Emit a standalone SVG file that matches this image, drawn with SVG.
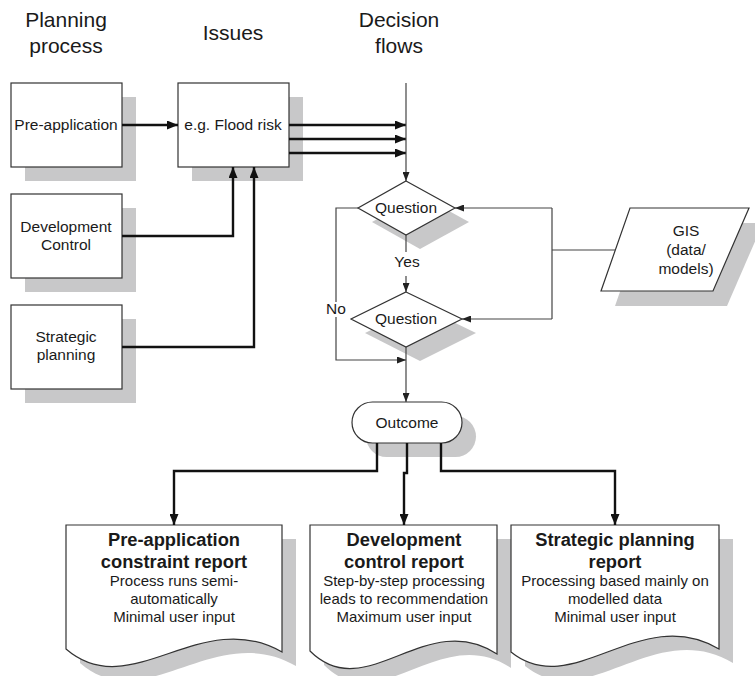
<svg xmlns="http://www.w3.org/2000/svg" width="755" height="676" viewBox="0 0 755 676">
<style>
text{font-family:"Liberation Sans",Arial,sans-serif;fill:#1a1a1a;text-anchor:middle}
.h{font-size:21px}
.n{font-size:15.5px}
.b{font-size:18.3px;font-weight:bold}
.s{font-size:15px}
.shape{fill:#fff;stroke:#333;stroke-width:1.2}
.sh{fill:#c8c8c9;stroke:none}
.thick{fill:none;stroke:#111;stroke-width:2.4}
.thin{fill:none;stroke:#444;stroke-width:1.2}
</style>
<defs>
<marker id="ak" markerUnits="userSpaceOnUse" viewBox="0 0 11 9" markerWidth="11" markerHeight="9" refX="11" refY="4.5" orient="auto"><path d="M0,0 L11,4.5 L0,9 Z" fill="#111"/></marker>
<marker id="an" markerUnits="userSpaceOnUse" viewBox="0 0 9 7" markerWidth="9" markerHeight="7" refX="9" refY="3.5" orient="auto"><path d="M0,0 L9,3.5 L0,7 Z" fill="#222"/></marker>
</defs>
<rect width="755" height="676" fill="#fff"/>

<g id="headers">
<text class="h" x="66" y="27">Planning</text>
<text class="h" x="66" y="53">process</text>
<text class="h" x="233" y="40">Issues</text>
<text class="h" x="399" y="27">Decision</text>
<text class="h" x="399" y="53">flows</text>
</g>

<g id="pre-application">
<rect class="sh" x="25" y="97" width="111" height="84"/>
<rect class="shape" x="11" y="83" width="111" height="84"/>
<text class="n" x="66" y="130">Pre-application</text>
</g>
<g id="flood-risk">
<rect class="sh" x="192" y="97" width="111" height="84"/>
<rect class="shape" x="178" y="83" width="111" height="84"/>
<text class="n" x="233" y="130">e.g. Flood risk</text>
</g>
<g id="development-control">
<rect class="sh" x="25" y="208" width="111" height="84"/>
<rect class="shape" x="11" y="194" width="111" height="84"/>
<text class="n" x="66" y="232">Development</text>
<text class="n" x="66" y="250">Control</text>
</g>
<g id="strategic-planning">
<rect class="sh" x="25" y="319" width="111" height="84"/>
<rect class="shape" x="11" y="305" width="111" height="84"/>
<text class="n" x="66" y="342">Strategic</text>
<text class="n" x="66" y="360">planning</text>
</g>

<g id="question1">
<polygon class="sh" points="420,195 469,222 420,249 372,222"/>
<polygon class="shape" points="406,181 455,208 406,235 358,208"/>
<text class="n" x="406" y="213">Question</text>
</g>
<g id="question2">
<polygon class="sh" points="420,306 476,333 420,361 365,333"/>
<polygon class="shape" points="406,292 462,319 406,347 351,319"/>
<text class="n" x="406" y="324">Question</text>
</g>
<g id="gis">
<polygon class="sh" points="644,223 763,223 727,306 615,306"/>
<polygon class="shape" points="630,208 749,208 713,291 601,291"/>
<text class="n" x="686" y="236">GIS</text>
<text class="n" x="686" y="255">(data/</text>
<text class="n" x="686" y="274">models)</text>
</g>
<g id="outcome">
<rect class="sh" x="366" y="416" width="110" height="41" rx="20.5"/>
<rect class="shape" x="352" y="402" width="110" height="41" rx="20.5"/>
<text class="n" x="407" y="428">Outcome</text>
</g>

<g id="report-pre-application">
<path class="sh" transform="translate(14,14)" d="M66,525 H282 V652 C200,605 131,705 66,649 Z"/>
<path class="shape" d="M66,525 H282 V652 C200,605 131,705 66,649 Z"/>
<text class="b" x="174" y="546">Pre-application</text>
<text class="b" x="174" y="568">constraint report</text>
<text class="s" x="174" y="586">Process runs semi-</text>
<text class="s" x="174" y="604">automatically</text>
<text class="s" x="174" y="622">Minimal user input</text>
</g>
<g id="report-development-control">
<path class="sh" transform="translate(14,14)" d="M310,525 H497 V654 C426,607 366,707 310,651 Z"/>
<path class="shape" d="M310,525 H497 V654 C426,607 366,707 310,651 Z"/>
<text class="b" x="404" y="546">Development</text>
<text class="b" x="404" y="568">control report</text>
<text class="s" x="404" y="586">Step-by-step processing</text>
<text class="s" x="404" y="604">leads to recommendation</text>
<text class="s" x="404" y="622">Maximum user input</text>
</g>
<g id="report-strategic-planning">
<path class="sh" transform="translate(14,14)" d="M511,525 H719 V649 C640,602 573,702 511,652 Z"/>
<path class="shape" d="M511,525 H719 V649 C640,602 573,702 511,652 Z"/>
<text class="b" x="615" y="546">Strategic planning</text>
<text class="b" x="615" y="568">report</text>
<text class="s" x="615" y="586">Processing based mainly on</text>
<text class="s" x="615" y="604">modelled data</text>
<text class="s" x="615" y="622">Minimal user input</text>
</g>

<g id="connectors">
<path class="thick" d="M122,125 H178" marker-end="url(#ak)"/>
<path class="thick" d="M289,125 H406" marker-end="url(#ak)"/>
<path class="thick" d="M289,139 H406" marker-end="url(#ak)"/>
<path class="thick" d="M289,153 H406" marker-end="url(#ak)"/>
<path class="thick" d="M122,236 H233 V167" marker-end="url(#ak)"/>
<path class="thick" d="M122,347 H254 V167" marker-end="url(#ak)"/>
<path class="thin" d="M406,83 V181" marker-end="url(#an)"/>
<path class="thin" d="M406,235 V252"/>
<path class="thin" d="M406,276 V292" marker-end="url(#an)"/>
<text class="n" x="407" y="267">Yes</text>
<path class="thin" d="M358,208 H336 V302"/>
<path class="thin" d="M336,317 V360 H406" marker-end="url(#an)"/>
<text class="n" x="336" y="314">No</text>
<path class="thin" d="M406,347 V402" marker-end="url(#an)"/>
<path class="thin" d="M615,250 H552"/>
<path class="thin" d="M552,208 V319"/>
<path class="thin" d="M552,208 H455" marker-end="url(#an)"/>
<path class="thin" d="M552,319 H462" marker-end="url(#an)"/>
<path class="thick" d="M377,443 V471 H174 V525" marker-end="url(#ak)"/>
<path class="thick" d="M407,443 V473 H404 V525" marker-end="url(#ak)"/>
<path class="thick" d="M441,443 V471 H615 V525" marker-end="url(#ak)"/>
</g>
</svg>
